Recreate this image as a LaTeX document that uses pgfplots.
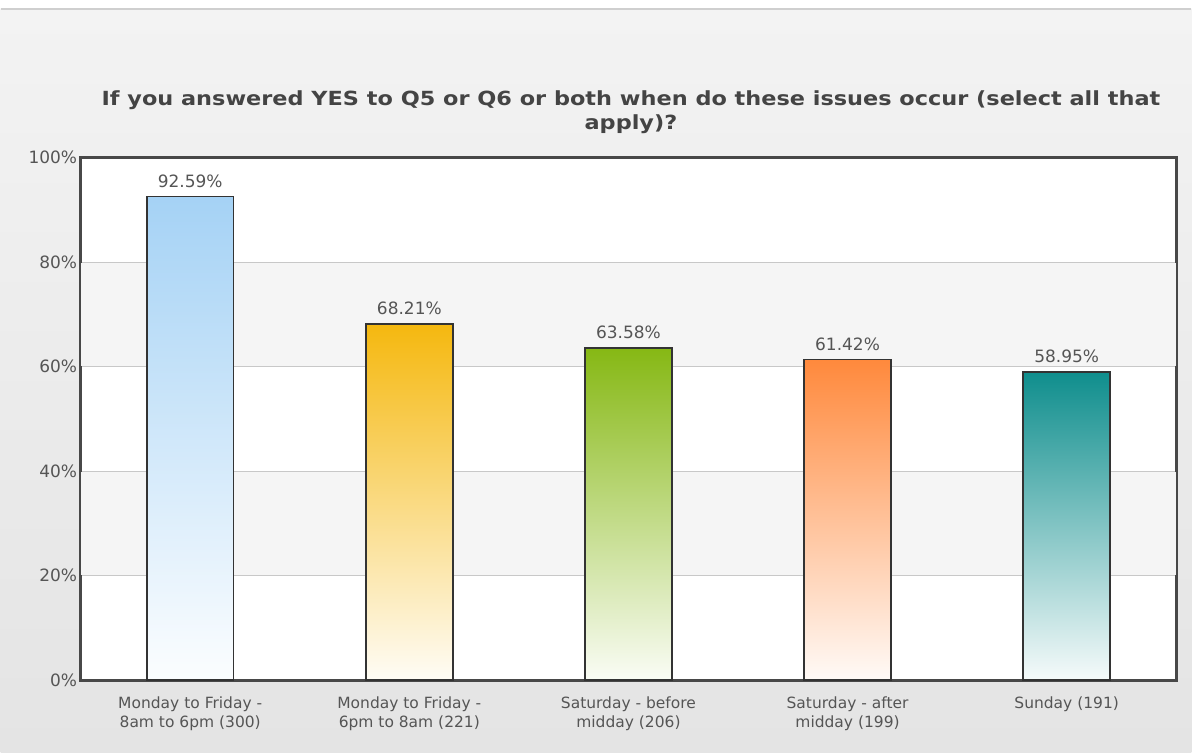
\documentclass[border=0pt]{standalone}
\usepackage{fontspec}
\setmainfont{DejaVu Sans}
\newfontfamily\titlefont{DejaVu Sans}[FakeStretch=1.15]
\usepackage{pgfplots}
\pgfplotsset{compat=1.18}

\definecolor{bgtop}{HTML}{F3F3F3}
\definecolor{bgbot}{HTML}{E4E4E4}
\definecolor{framecol}{HTML}{CFCFCF}
\definecolor{txt}{HTML}{555555}
\definecolor{ttl}{HTML}{444444}
\definecolor{band}{HTML}{F5F5F5}
\definecolor{gridc}{HTML}{C8C8C8}
\definecolor{axc}{HTML}{484848}
\definecolor{barline}{HTML}{333333}
\definecolor{cblue}{HTML}{A5D2F5}
\definecolor{cgold}{HTML}{F5B80F}
\definecolor{cgreen}{HTML}{86B814}
\definecolor{corange}{HTML}{FF893C}
\definecolor{cteal}{HTML}{0F8E8D}

\pgfplotsset{
    barstyle/.style={ybar, bar width=87bp, bar shift=0pt, draw=barline, line width=1.5bp,
        top color=#1, bottom color=#1!4!white,
        nodes near coords={\pgfmathprintnumber[fixed,fixed zerofill,precision=2,assume math mode=true]{\pgfplotspointmeta}\%},
        every node near coord/.append style={text=txt, font=\fontsize{17bp}{20bp}\selectfont, yshift=5bp}},
}

\begin{document}
\begin{tikzpicture}
% page background
\fill[white] (-80bp,-72bp) rectangle (1112bp,681bp);
\shade[top color=bgtop,bottom color=bgbot] (-80bp,-72bp) rectangle (1112bp,672bp);
\draw[framecol, line width=1.5bp] (-80bp,672bp) -- (1112bp,672bp);
\useasboundingbox (-80bp,-72bp) rectangle (1112bp,681bp);

\begin{axis}[
    at={(0,0)}, anchor=south west,
    scale only axis,
    width=1097bp, height=523bp,
    xmin=-0.5, xmax=4.5,
    ymin=0, ymax=100,
    xtick={0,1,2,3,4},
    xticklabels={{Monday to Friday -\\8am to 6pm (300)},
                 {Monday to Friday -\\6pm to 8am (221)},
                 {Saturday - before\\midday (206)},
                 {Saturday - after\\midday (199)},
                 {Sunday (191)}},
    ytick={0,20,40,60,80,100},
    yticklabels={0\%,20\%,40\%,60\%,80\%,100\%},
    major tick length=0pt,
    xticklabel style={align=center, text=txt, font=\fontsize{15.5bp}{19bp}\selectfont, yshift=-13bp},
    yticklabel style={text=txt, font=\fontsize{17bp}{20bp}\selectfont, xshift=0bp},
    ymajorgrids=true,
    grid style={gridc, line width=1bp},
    axis line style={axc, line width=2.8bp},
    axis background/.style={fill=white},
    ]
    % alternating background bands
    \addplot[fill=band, draw=none, forget plot] coordinates {(-0.5,60.12) (4.5,60.12) (4.5,79.88) (-0.5,79.88)} -- cycle;
    \addplot[fill=band, draw=none, forget plot] coordinates {(-0.5,20.12) (4.5,20.12) (4.5,39.88) (-0.5,39.88)} -- cycle;

    \addplot[barstyle=cblue]   coordinates {(0,92.59)};
    \addplot[barstyle=cgold]   coordinates {(1,68.21)};
    \addplot[barstyle=cgreen]  coordinates {(2,63.58)};
    \addplot[barstyle=corange] coordinates {(3,61.42)};
    \addplot[barstyle=cteal]   coordinates {(4,58.95)};
\end{axis}

\node[text=ttl, align=center, font=\titlefont\bfseries\fontsize{19.5bp}{24bp}\selectfont]
    at (551bp,569bp) {If you answered YES to Q5 or Q6 or both when do these issues occur (select all that\\apply)?};
\end{tikzpicture}
\end{document}
